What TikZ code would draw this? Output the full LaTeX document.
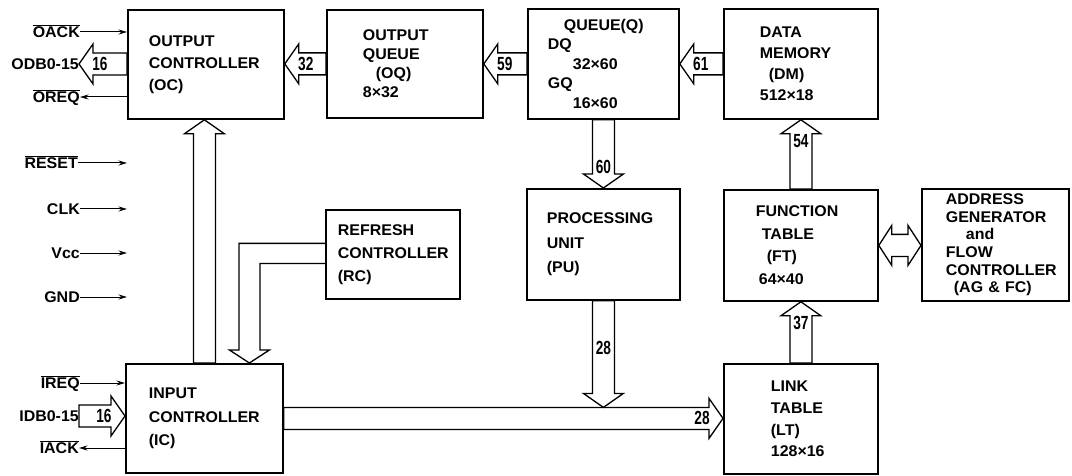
\documentclass[tikz,border=0pt]{standalone}
\usepackage{fontspec}
\usepackage{graphicx}
\usetikzlibrary{arrows.meta, calc}
\setmainfont{Liberation Sans}
\newfontfamily\lblfont[FakeStretch=1.03]{Liberation Sans Bold}
\newfontfamily\numfont[FakeStretch=0.72]{Liberation Sans Bold}
\newcommand{\boxfont}[1]{\lblfont\fontsize{15.5}{#1}\selectfont}
\newcommand{\negsig}[1]{$\overline{\hbox{#1}}$}
% hollow bus arrow: [label offset] from, to, angle, label
\newcommand{\bus}[5][21]{%
  \draw[bus, shift={(#2)}, rotate=#4]
    let \p1=(#2), \p2=(#3), \n1={veclen(\x2-\x1,\y2-\y1)} in
    (0pt,11pt) -- (\n1-14pt,11pt) -- (\n1-14pt,20pt) -- (\n1,0pt)
    -- (\n1-14pt,-20pt) -- (\n1-14pt,-11pt) -- (0pt,-11pt) -- cycle
    (\n1-#1pt,0pt) node[num] {#5};
}

\begin{document}
\begin{tikzpicture}[
   x=1pt, y=-1pt,
   blk/.style={draw, line width=1.8pt, anchor=north west, align=left,
               inner ysep=0pt},
   sig/.style={anchor=east, inner sep=0pt, text height=11pt, text depth=0pt,
               font=\boxfont{18}},
   sigline/.style={line width=1pt, -{Stealth[length=8.5pt, width=5pt]}},
   bus/.style={line width=1.3pt, line join=miter},
   num/.style={inner sep=0pt, font=\numfont\fontsize{19}{19}\selectfont}
  ]

  \useasboundingbox (0,0) rectangle (1072,476);

  % Blocks
  \node (OC) at (127,9) [blk, minimum height=109pt, text width=114pt,
    inner xsep=21pt, font=\boxfont{22}] {OUTPUT\\CONTROLLER\\(OC)};
  \node (OQ) at (326,9) [blk, minimum height=108pt, text width=84pt,
    inner xsep=36pt, font=\boxfont{19}]
    {OUTPUT\\QUEUE\\\hspace*{13pt}(OQ)\\8×32};
  \node (Q) at (527,8) [blk, minimum height=110pt, text width=111pt,
    inner xsep=20pt, font=\boxfont{19.5}]
    {\hspace*{16pt}QUEUE(Q)\\DQ\\\hspace*{25pt}32×60\\GQ\\\hspace*{25pt}16×60};
  \node (DM) at (723,8) [blk, minimum height=110pt, text width=82pt,
    inner xsep=36pt, font=\boxfont{21}]
    {DATA\\MEMORY\\\hspace*{9pt}(DM)\\512×18};

  \node (RC) at (325,209) [blk, minimum height=89pt, text width=110pt,
    inner xsep=12pt, font=\boxfont{23}] {REFRESH\\CONTROLLER\\(RC)};
  \node (PU) at (526,188) [blk, minimum height=111pt, text width=113pt,
    inner xsep=20pt, font=\boxfont{24.5}] {PROCESSING\\UNIT\\(PU)};
  \node (FT) at (723,189) [blk, minimum height=111pt, text width=94pt,
    inner xsep=30pt, font=\boxfont{22.5}]
    {\hspace*{2pt}FUNCTION\\\hspace*{8pt}TABLE\\\hspace*{13pt}(FT)\\\hspace*{5pt}64×40};
  \node (AG) at (921,188) [blk, minimum height=112pt, text width=99pt,
    inner xsep=24pt, font=\boxfont{17.6}]
    {ADDRESS\\GENERATOR\\\hspace*{20pt}and\\FLOW\\CONTROLLER\\\hspace*{8pt}(AG \& FC)};

  \node (IC) at (125,363) [blk, minimum height=109pt, text width=111pt,
    inner xsep=23pt, font=\boxfont{23.5}] {INPUT\\CONTROLLER\\(IC)};
  \node (LT) at (723,363) [blk, minimum height=110pt, text width=60pt,
    inner xsep=47pt, font=\boxfont{21.7}] {LINK\\TABLE\\(LT)\\128×16};

  % Pins
  \node (oack) at (80,32) [sig] {\negsig{OACK}};
  \node (odb) at (79,64) [sig] {ODB0-15};
  \node (oreq) at (80,97) [sig] {\negsig{OREQ}};
  \node (rst) at (78,163) [sig] {\negsig{RESET}};
  \node (clk) at (80,209) [sig] {CLK};
  \node (vcc) at (80,253) [sig] {Vcc};
  \node (gnd) at (80,297) [sig] {GND};
  \node (ireq) at (80,383) [sig] {\negsig{IREQ}};
  \node (idb) at (79,416) [sig] {IDB0-15};
  \node (iack) at (79,448) [sig] {\negsig{IACK}};

  \draw[sigline] (oack.east) -- (oack.east -| OC.west);
  \draw[sigline] (oreq.east -| OC.west) -- (oreq.east);
  \draw[sigline] (ireq.east) -- (ireq.east -| IC.west);
  \draw[sigline] (iack.east -| IC.west) -- (iack.east);

  \foreach \s in {rst, clk, vcc, gnd} {
    \coordinate (\s-in) at (\s.east -| OC.west);
    \draw[sigline] (\s.east) -- (\s-in);
  }

  % Buses
  \coordinate (odb-out) at (OC.west |- odb.east);
  \coordinate (idb-in) at (idb.east -| IC.west);
  \coordinate (lt-in) at (IC.east -| LT.west);
  \coordinate (jn0) at (PU.south |- IC.east);
  \coordinate (jn) at ([yshift=11pt]jn0);

  \bus{odb-out}{odb.east}{180}{16}
  \bus{idb.east}{idb-in}{0}{16}
  \bus{OQ.west}{OC.east}{180}{32}
  \bus{Q.west}{OQ.east}{180}{59}
  \bus{DM.west}{Q.east}{180}{61}
  \bus{Q.south}{PU.north}{270}{60}
  \bus{FT.north}{DM.south}{90}{54}
  \bus{LT.north}{FT.south}{90}{37}
  \bus{IC.north}{OC.south}{90}{}
  \bus{IC.east}{lt-in}{0}{28}
  \bus[59]{PU.south}{jn}{270}{28}

  \coordinate (rcin) at ([xshift=45pt]IC.north);
  \draw[bus] let \p1=(RC.west), \p2=(rcin) in
    (\x1,\y1+11pt) -- (\x2-10.5pt,\y1+11pt) -- (\x2-10.5pt,\y2+13pt)
    -- (\x2-20pt,\y2+13pt) -- (\p2) -- (\x2+20pt,\y2+13pt)
    -- (\x2+10.5pt,\y2+13pt) -- (\x2+10.5pt,\y1-9pt) -- (\x1,\y1-9pt);

  \draw[bus] let \p1=(FT.east), \p2=(AG.west) in
    (\x1,\y1) -- (\x1+13pt,\y1+20pt) -- (\x1+13pt,\y1+11pt)
    -- (\x2-13pt,\y1+11pt) -- (\x2-13pt,\y1+20pt) -- (\x2,\y1)
    -- (\x2-13pt,\y1-20pt) -- (\x2-13pt,\y1-11pt) -- (\x1+13pt,\y1-11pt)
    -- (\x1+13pt,\y1-20pt) -- cycle;

\end{tikzpicture}
\end{document}
